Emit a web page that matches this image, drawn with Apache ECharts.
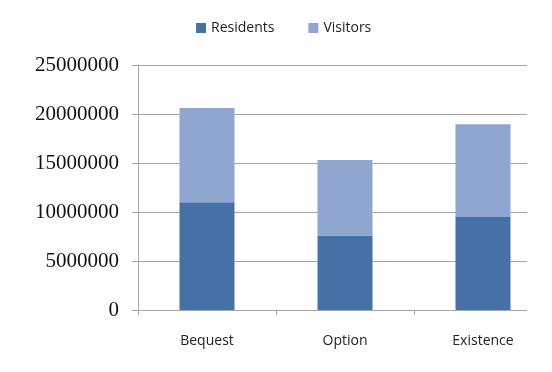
<!DOCTYPE html>
<html>
<head>
<meta charset="utf-8">
<script src="https://cdn.jsdelivr.net/npm/echarts@6/dist/echarts.min.js"></script>
<style>
  html, body { margin: 0; padding: 0; background: #fff; }
  #main { width: 552px; height: 372px; }
</style>
</head>
<body>
<div id="main"></div>
<script>
var categories = ['Bequest', 'Option', 'Existence'];
var residents = [11000000, 7600000, 9500000];
var visitors = [9600000, 7700000, 9450000];
var yTicks = [0, 5000000, 10000000, 15000000, 20000000, 25000000];

var lineColor = '#a6a6a6';
var myChart = echarts.init(document.getElementById('main'));

var option = {
    animation: false,
    legend: {
        left: 191,
        top: 16,
        itemWidth: 10,
        itemHeight: 10,
        itemGap: 34,
        icon: 'rect',
        data: ['Residents', 'Visitors'],
        textStyle: {
            fontFamily: 'Open Sans',
            fontSize: 14,
            color: '#222'
        }
    },
    grid: [
        { left: 138, right: 0, top: 65, bottom: 62 },
        { left: 138, right: 25, top: 65, bottom: 62 }
    ],
    xAxis: [{
        type: 'category',
        gridIndex: 0,
        data: categories,
        axisLine: { show: false },
        axisTick: { show: true, length: 5, lineStyle: { color: lineColor } },
        axisLabel: {
            margin: 24,
            fontFamily: 'Open Sans',
            fontSize: 14,
            color: '#222'
        }
    }, {
        type: 'value',
        gridIndex: 1,
        min: 0,
        max: 1,
        show: false
    }],
    yAxis: [{
        type: 'value',
        gridIndex: 0,
        min: yTicks[0],
        max: yTicks[yTicks.length - 1],
        interval: yTicks[1] - yTicks[0],
        axisLine: { show: true, lineStyle: { color: lineColor } },
        axisTick: { show: true, length: 6, lineStyle: { color: lineColor } },
        axisLabel: {
            margin: 19,
            fontFamily: 'Liberation Serif',
            fontSize: 21,
            color: '#111',
            formatter: function (v) { return String(v); }
        },
        splitLine: { show: false }
    }, {
        type: 'value',
        gridIndex: 1,
        min: yTicks[0],
        max: yTicks[yTicks.length - 1],
        interval: yTicks[1] - yTicks[0],
        axisLine: { show: false },
        axisTick: { show: false },
        axisLabel: { show: false },
        splitLine: { show: true, lineStyle: { color: lineColor, width: 1 } }
    }],
    series: [{
        name: 'Residents',
        type: 'bar',
        stack: 'total',
        barWidth: 55,
        itemStyle: { color: '#4571a6' },
        data: residents
    }, {
        name: 'Visitors',
        type: 'bar',
        stack: 'total',
        barWidth: 55,
        itemStyle: { color: '#8fa7d0' },
        data: visitors
    }]
};
myChart.setOption(option);
</script>
</body>
</html>
